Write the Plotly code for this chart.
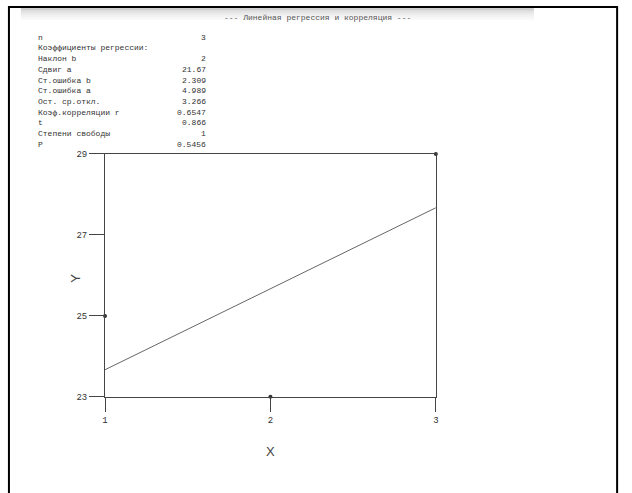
import plotly.graph_objects as go

# Observations
x_obs = [1, 2, 3]
y_obs = [25, 23, 29]

# Fitted regression y = a + b*x
slope_b = 2
intercept_a = 21.67

# Summary table
stat_labels = ["n", "Коэффициенты регрессии:", "Наклон b", "Сдвиг a", "Ст.ошибка b",
               "Ст.ошибка a", "Ост. ср.откл.", "Коэф.корреляции r", "t",
               "Степени свободы", "P"]
stat_values = ["3", "", "2", "21.67", "2.309", "4.989", "3.266", "0.6547", "0.866", "1", "0.5456"]

x_ticks = [1, 2, 3]
y_ticks = [23, 25, 27, 29]

W, H = 632, 493
MONO = "Liberation Mono"
INK = "#444444"


def px(x):
    return x / W


def py(y):
    return 1 - y / H


fit_x = [x_ticks[0], x_ticks[-1]]
fit_y = [intercept_a + slope_b * v for v in fit_x]

fig = go.Figure()
fig.add_trace(go.Scatter(x=fit_x, y=fit_y, mode="lines",
                         line=dict(color="#666666", width=1), hoverinfo="skip"))
fig.add_trace(go.Scatter(x=x_obs, y=y_obs, mode="markers", cliponaxis=False,
                         marker=dict(color="#333333", size=4)))

shapes = []
# title band fading downward
band_steps = ["#cfcfcf", "#dadada", "#e4e4e4", "#ececec", "#f3f3f3", "#f8f8f8"]
for i, c in enumerate(band_steps):
    y0 = 4 + i * 2
    shapes.append(dict(type="rect", xref="paper", yref="paper",
                       x0=px(18), x1=px(536), y0=py(y0 + 2), y1=py(y0),
                       fillcolor=c, line=dict(width=0), layer="below"))
# outer frame
shapes.append(dict(type="rect", xref="paper", yref="paper",
                   x0=px(6), x1=px(620), y0=py(505), y1=py(3),
                   line=dict(color="black", width=2), fillcolor="rgba(0,0,0,0)"))

annotations = [dict(text="--- Линейная регрессия и корреляция ---", xref="paper", yref="paper",
                    x=px(318), y=py(14), xanchor="center", yanchor="middle", showarrow=False,
                    font=dict(family=MONO, size=8, color="#555555"))]
for i, (lab, val) in enumerate(zip(stat_labels, stat_values)):
    yy = py(34 + i * 10.9)
    annotations.append(dict(text=lab, xref="paper", yref="paper", x=px(33), y=yy,
                            xanchor="left", yanchor="middle", showarrow=False,
                            font=dict(family=MONO, size=8, color="#333333")))
    if val:
        annotations.append(dict(text=val, xref="paper", yref="paper", x=px(207), y=yy,
                                xanchor="right", yanchor="middle", showarrow=False,
                                font=dict(family=MONO, size=8, color="#333333")))
# rotated Y axis title
annotations.append(dict(text="Y", xref="paper", yref="paper", x=px(73), y=py(280),
                        xanchor="center", yanchor="middle", showarrow=False, textangle=-90,
                        font=dict(family="Liberation Sans", size=13, color="#444444")))

axis_common = dict(showgrid=False, zeroline=False, showline=True, mirror=True,
                   linecolor=INK, linewidth=1, ticks="outside", tickcolor=INK,
                   tickwidth=1, tickfont=dict(family=MONO, size=9, color="#333333"))

fig.update_layout(
    width=W, height=H,
    margin=dict(l=0, r=0, t=0, b=0),
    paper_bgcolor="white", plot_bgcolor="white",
    showlegend=False,
    shapes=shapes,
    annotations=annotations,
    xaxis=dict(domain=[px(103), px(437)], range=[1, 3], tickvals=x_ticks, ticklen=14,
               title=dict(text="X", font=dict(family="Liberation Sans", size=13, color="#444444"),
                          standoff=22),
               **axis_common),
    yaxis=dict(domain=[py(401), py(153)], range=[23, 29], tickvals=y_ticks, ticklen=15,
               **axis_common),
)

fig.write_html("out.html")
